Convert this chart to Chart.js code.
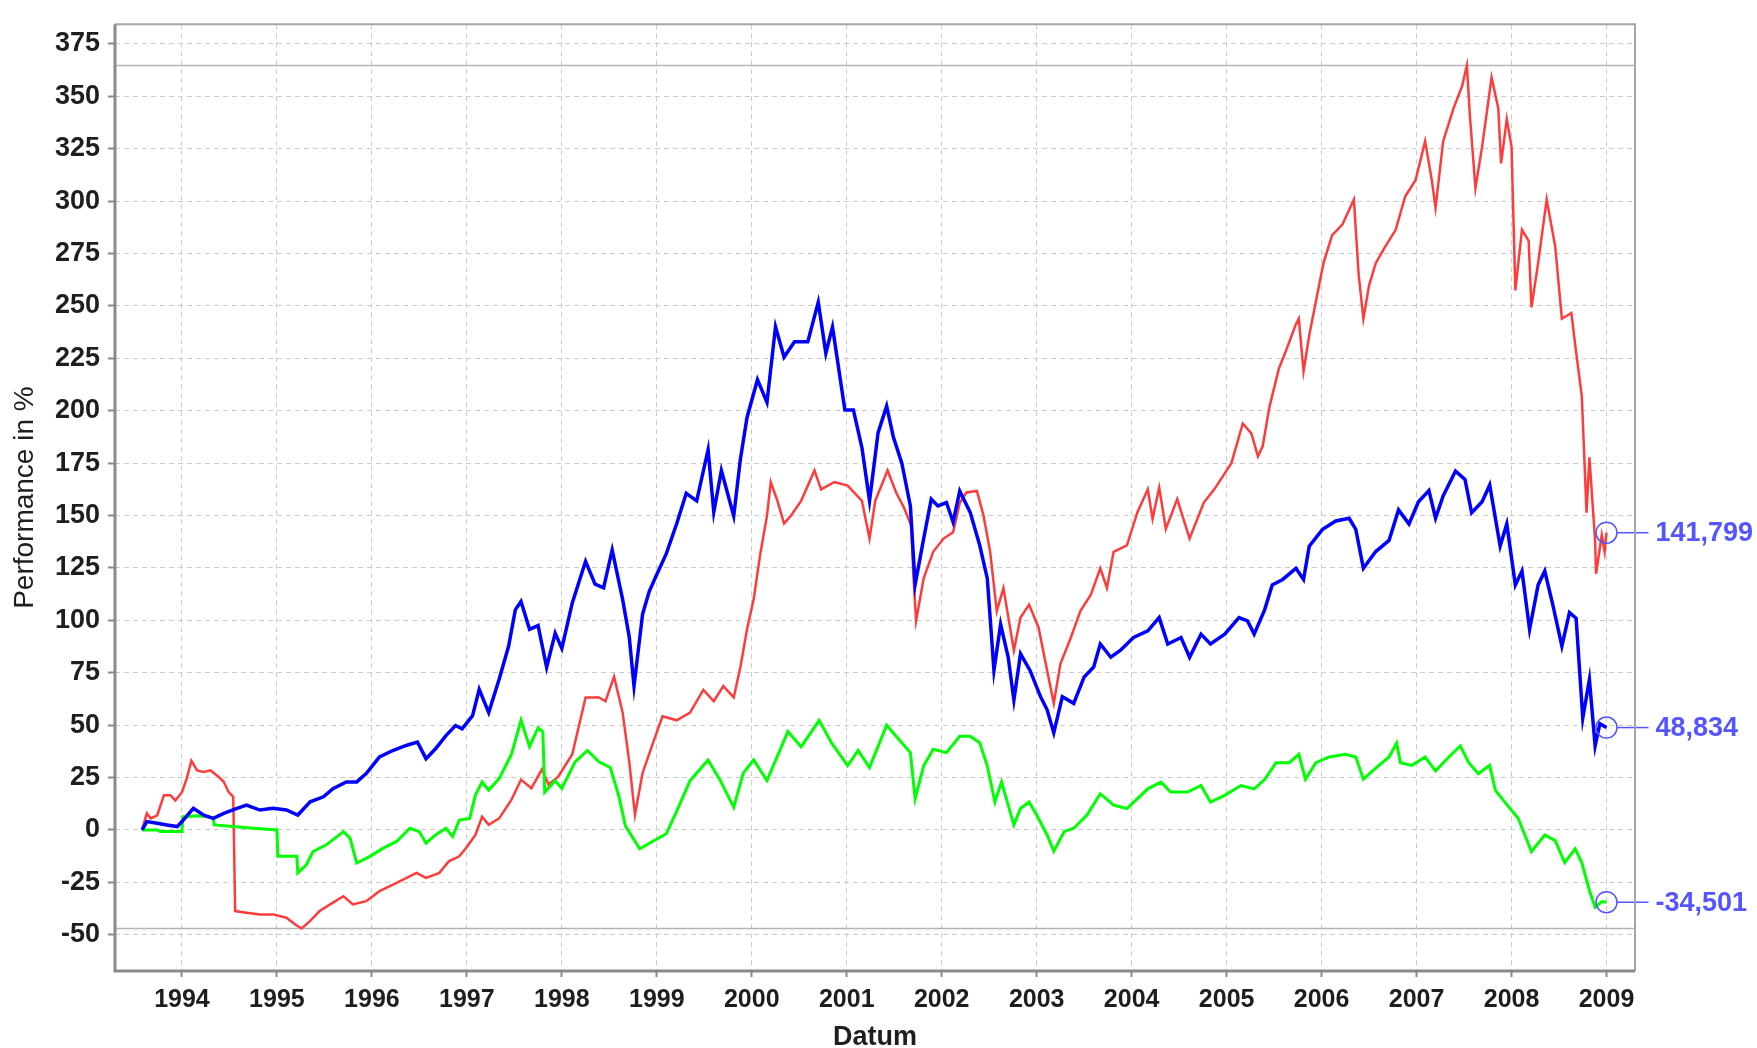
<!DOCTYPE html>
<html>
<head>
<meta charset="utf-8">
<title>Performance in %</title>
<script src="https://cdn.jsdelivr.net/npm/chart.js@4.4.1/dist/chart.umd.min.js"></script>
<style>
  html, body { margin: 0; padding: 0; background: #fff; }
  #wrap { width: 1757px; height: 1048px; }
</style>
</head>
<body>
<div id="wrap"><canvas id="perf" width="1757" height="1048"></canvas></div>
<script>
// axis ticks
const yearTicks = [1994, 1995, 1996, 1997, 1998, 1999, 2000, 2001, 2002, 2003, 2004, 2005, 2006, 2007, 2008, 2009];
const valueTicks = [-50, -25, 0, 25, 50, 75, 100, 125, 150, 175, 200, 225, 250, 275, 300, 325, 350, 375];

// red series
const redYears = [1993.58, 1993.63, 1993.67, 1993.74, 1993.81, 1993.88, 1993.93, 1994.00, 1994.05, 1994.10,
  1994.16, 1994.23, 1994.30, 1994.37, 1994.44, 1994.49, 1994.54, 1994.56, 1994.68, 1994.82,
  1994.96, 1995.10, 1995.19, 1995.26, 1995.35, 1995.45, 1995.56, 1995.70, 1995.80, 1995.94,
  1996.08, 1996.26, 1996.47, 1996.57, 1996.71, 1996.81, 1996.92, 1996.99, 1997.09, 1997.16,
  1997.23, 1997.34, 1997.47, 1997.57, 1997.68, 1997.79, 1997.86, 1997.96, 1998.11, 1998.25,
  1998.39, 1998.46, 1998.55, 1998.64, 1998.71, 1998.77, 1998.85, 1998.96, 1999.06, 1999.21,
  1999.35, 1999.49, 1999.60, 1999.70, 1999.81, 1999.88, 1999.95, 2000.02, 2000.09, 2000.16,
  2000.20, 2000.27, 2000.34, 2000.41, 2000.52, 2000.66, 2000.73, 2000.87, 2001.01, 2001.16,
  2001.24, 2001.30, 2001.43, 2001.52, 2001.60, 2001.68, 2001.70, 2001.73, 2001.81, 2001.91,
  2002.02, 2002.12, 2002.19, 2002.26, 2002.37, 2002.44, 2002.51, 2002.58, 2002.65, 2002.76,
  2002.83, 2002.92, 2003.02, 2003.11, 2003.18, 2003.25, 2003.36, 2003.46, 2003.57, 2003.67,
  2003.74, 2003.81, 2003.95, 2004.06, 2004.17, 2004.22, 2004.29, 2004.36, 2004.48, 2004.61,
  2004.76, 2004.87, 2005.05, 2005.17, 2005.26, 2005.33, 2005.38, 2005.45, 2005.55, 2005.62,
  2005.73, 2005.76, 2005.81, 2005.87, 2005.95, 2006.02, 2006.11, 2006.22, 2006.34, 2006.39,
  2006.44, 2006.50, 2006.57, 2006.67, 2006.78, 2006.88, 2006.99, 2007.09, 2007.16, 2007.20,
  2007.28, 2007.39, 2007.48, 2007.53, 2007.56, 2007.62, 2007.69, 2007.79, 2007.86, 2007.89,
  2007.95, 2008.00, 2008.04, 2008.11, 2008.18, 2008.21, 2008.28, 2008.37, 2008.46, 2008.53,
  2008.63, 2008.68, 2008.74, 2008.79, 2008.82, 2008.88, 2008.89, 2008.95, 2008.98, 2009.00];
const redValues = [0, 7.9, 5.5, 7, 16.6, 16.6, 14, 18, 24.5, 33,
  28.4, 27.6, 28.4, 26, 23, 18.2, 15.8, -38.7, -39.5, -40.3,
  -40.3, -41.9, -45, -47, -43.4, -38.7, -35.5, -31.6, -35.5, -34,
  -29.2, -25.3, -20.5, -22.9, -20.5, -15, -12.6, -8.7, -2.4, 6.3,
  2.4, 5.5, 14.4, 24, 19.9, 28.9, 21.7, 25.3, 36.1, 63.2,
  63.2, 61.4, 73.1, 56, 32.5, 7.2, 27.1, 41.5, 54.2, 52.3,
  56, 66.8, 61.4, 68.6, 63.2, 77.6, 95.7, 110, 131.8, 149.8,
  166, 157, 146.2, 149.8, 157, 171.5, 162.5, 166, 164.3, 157,
  139, 157, 171.5, 161, 154, 145, 123, 99.7, 120, 132.7,
  139, 142, 156, 161, 161.7, 150, 132.7, 104.4, 115.4, 85.6,
  101.3, 107.5, 96.5, 76.1, 60.4, 79.3, 91.8, 104.4, 112.2, 124.8,
  115.4, 132.7, 135.8, 151.5, 162.5, 148.4, 163.3, 143.6, 157.8, 139,
  156.2, 162.5, 175, 193.9, 189.2, 178.2, 183.1, 201.6, 220.1, 228,
  241.3, 243.9, 218.8, 236, 254.5, 270.4, 283.6, 288.9, 300.8, 265.1,
  243.9, 259.8, 270.4, 278.3, 286.3, 302.2, 310.1, 328.6, 310.1, 296.8,
  328.6, 344.4, 355, 364.7, 341.8, 306.2, 326, 359, 344.4, 318,
  339.1, 326, 257.4, 286.3, 281, 249.3, 270.4, 300.8, 278.3, 243.9,
  246.6, 228, 206.9, 151.3, 177.8, 138.1, 122.2, 140.7, 132.8, 141.799];

// blue series
const blueYears = [1993.58, 1993.63, 1993.74, 1993.84, 1993.95, 1994.00, 1994.12, 1994.23, 1994.33, 1994.44,
  1994.58, 1994.68, 1994.82, 1994.96, 1995.10, 1995.22, 1995.35, 1995.49, 1995.59, 1995.73,
  1995.84, 1995.94, 1996.08, 1996.22, 1996.36, 1996.48, 1996.57, 1996.67, 1996.78, 1996.88,
  1996.95, 1997.06, 1997.13, 1997.23, 1997.34, 1997.44, 1997.51, 1997.57, 1997.66, 1997.75,
  1997.84, 1997.93, 1998.00, 1998.11, 1998.25, 1998.35, 1998.44, 1998.53, 1998.64, 1998.71,
  1998.76, 1998.85, 1998.92, 1998.99, 1999.10, 1999.21, 1999.31, 1999.42, 1999.54, 1999.60,
  1999.68, 1999.81, 1999.88, 1999.95, 2000.06, 2000.16, 2000.25, 2000.34, 2000.45, 2000.59,
  2000.70, 2000.78, 2000.85, 2000.98, 2001.07, 2001.16, 2001.24, 2001.33, 2001.42, 2001.49,
  2001.58, 2001.67, 2001.72, 2001.81, 2001.89, 2001.96, 2002.05, 2002.12, 2002.19, 2002.30,
  2002.40, 2002.48, 2002.55, 2002.62, 2002.70, 2002.76, 2002.83, 2002.93, 2003.04, 2003.11,
  2003.18, 2003.27, 2003.39, 2003.50, 2003.60, 2003.67, 2003.78, 2003.88, 2004.02, 2004.17,
  2004.29, 2004.38, 2004.52, 2004.61, 2004.73, 2004.83, 2004.98, 2005.13, 2005.22, 2005.29,
  2005.40, 2005.48, 2005.59, 2005.73, 2005.81, 2005.87, 2006.01, 2006.15, 2006.29, 2006.36,
  2006.44, 2006.57, 2006.71, 2006.81, 2006.92, 2007.02, 2007.13, 2007.20, 2007.28, 2007.41,
  2007.51, 2007.58, 2007.69, 2007.77, 2007.88, 2007.95, 2008.04, 2008.11, 2008.19, 2008.28,
  2008.35, 2008.44, 2008.53, 2008.61, 2008.68, 2008.75, 2008.82, 2008.88, 2008.93, 2009.00];
const blueValues = [0, 4, 3.2, 2.4, 1.6, 4, 10.3, 7, 5.5, 7.9,
  10.3, 11.8, 9.5, 10.3, 9.5, 7.1, 13.4, 15.8, 19.7, 22.9,
  22.9, 26.9, 34.8, 37.9, 40.3, 41.9, 34, 38.7, 45, 49.8,
  48.2, 54.5, 67.1, 56, 71.9, 87.7, 105, 109, 95.7, 97.5,
  77.6, 93.9, 86.6, 108.3, 128.2, 117.3, 115.5, 133.6, 110, 92,
  68.6, 102.9, 113.7, 120.9, 131.8, 146.2, 160.6, 157, 181.4, 151.6,
  171.5, 149.8, 176.9, 196.8, 214.8, 204, 240, 225.6, 232.9, 232.9,
  251.8, 227.4, 240, 200.4, 200.4, 182.3, 157, 189.5, 202.2, 187.6,
  175, 154.6, 117, 139, 157.8, 154.6, 156.2, 146.8, 161.7, 151.5,
  135.8, 120, 76.1, 98.1, 82.4, 62, 84, 76.1, 63.6, 57.3,
  46.3, 63.6, 60.4, 73, 77.7, 88.7, 82.4, 85.6, 91.8, 95,
  101.3, 88.7, 91.8, 82.4, 93.4, 88.7, 93.4, 101.3, 99.7, 93.4,
  105, 116.9, 119.5, 124.8, 119.5, 135.4, 143.4, 147.4, 148.7, 143.4,
  124.8, 132.8, 138.1, 152.7, 146, 156.6, 161.9, 148.7, 159.3, 171.2,
  167.2, 151.3, 156.6, 164.6, 135.4, 146, 116.9, 123.5, 95.6, 116.9,
  123.5, 106.3, 87.7, 103.7, 101, 53.3, 71.8, 40.1, 50.7, 48.834];

// green series
const greenYears = [1993.58, 1993.74, 1993.77, 1994.00, 1994.01, 1994.19, 1994.33, 1994.34, 1994.54, 1994.75,
  1995.00, 1995.01, 1995.21, 1995.22, 1995.31, 1995.38, 1995.52, 1995.70, 1995.77, 1995.84,
  1995.98, 1996.12, 1996.26, 1996.40, 1996.50, 1996.57, 1996.67, 1996.78, 1996.85, 1996.92,
  1997.03, 1997.09, 1997.16, 1997.23, 1997.34, 1997.47, 1997.57, 1997.66, 1997.75, 1997.80,
  1997.82, 1997.93, 1998.00, 1998.14, 1998.27, 1998.39, 1998.51, 1998.60, 1998.67, 1998.82,
  1998.96, 1999.10, 1999.21, 1999.35, 1999.54, 1999.67, 1999.81, 1999.91, 2000.02, 2000.16,
  2000.38, 2000.52, 2000.71, 2000.84, 2001.01, 2001.12, 2001.24, 2001.42, 2001.52, 2001.67,
  2001.72, 2001.81, 2001.91, 2002.05, 2002.19, 2002.30, 2002.40, 2002.48, 2002.56, 2002.63,
  2002.76, 2002.83, 2002.92, 2003.00, 2003.11, 2003.18, 2003.29, 2003.39, 2003.53, 2003.67,
  2003.81, 2003.95, 2004.17, 2004.31, 2004.41, 2004.59, 2004.73, 2004.83, 2004.98, 2005.15,
  2005.29, 2005.40, 2005.52, 2005.66, 2005.76, 2005.83, 2005.94, 2006.08, 2006.25, 2006.36,
  2006.44, 2006.57, 2006.71, 2006.79, 2006.83, 2006.95, 2007.09, 2007.20, 2007.34, 2007.46,
  2007.55, 2007.65, 2007.77, 2007.83, 2007.97, 2008.07, 2008.21, 2008.35, 2008.46, 2008.56,
  2008.67, 2008.74, 2008.82, 2008.88, 2008.95, 2009.00];
const greenValues = [0, 0, -0.8, -0.8, 6.3, 6.8, 5.8, 2.4, 1.6, 0.8,
  0, -12.6, -12.6, -20.5, -16.6, -10.3, -7.1, -0.8, -3.9, -15.8,
  -12.6, -8.7, -5.5, 0.8, -0.8, -6.3, -2.4, 0.8, -3.2, 4.7,
  5.5, 16.6, 22.9, 19, 24.5, 36.1, 52.3, 39.7, 48.7, 46.9,
  18, 23.5, 19.9, 32.5, 37.9, 32.5, 29.8, 16.2, 1.8, -9,
  -5.4, -1.8, 9, 23.5, 33.4, 23.5, 10.8, 27.1, 33.4, 23.5,
  46.9, 39.7, 52.3, 41.5, 30.7, 37.9, 29.8, 50, 44.7, 36.9,
  14.9, 30.6, 38.5, 36.9, 44.7, 44.7, 41.6, 30.6, 13.3, 22.8,
  2.4, 10.2, 13.3, 7.1, -2.4, -10.2, -0.8, 0.8, 7.1, 17.3,
  11.8, 10.2, 19.6, 22.8, 18.1, 18.1, 21.2, 13.3, 16.5, 21.2,
  19.6, 24, 32.1, 32.1, 36.1, 24.2, 32.1, 34.8, 36.1, 34.8,
  24.2, 29.5, 34.8, 41.4, 32.1, 30.8, 34.8, 28.2, 34.8, 40.1,
  32.1, 26.8, 30.8, 18.9, 11, 5.6, -10.3, -2.4, -5.1, -15.6,
  -9, -15.6, -28.9, -36.9, -34.2, -34.501];

const fontFamily = "'Liberation Sans', Arial, Helvetica, sans-serif";
const textColor = '#1e1e1e';
const markColor = '#5555ff';

function toPoints(xs, ys) {
  return xs.map((x, i) => ({ x: x, y: ys[i] }));
}

// gray lines at the overall max and min, plus the plot frame
const rangeLines = {
  id: 'rangeLines',
  beforeDatasetsDraw(chart) {
    const { ctx, chartArea: a } = chart;
    const yScale = chart.scales.y;
    const all = chart.data.datasets.flatMap(d => d.data.map(p => p.y));
    ctx.save();
    ctx.strokeStyle = '#b4b4b4';
    ctx.lineWidth = 1.5;
    [Math.max(...all), Math.min(...all)].forEach(v => {
      const py = yScale.getPixelForValue(v);
      ctx.beginPath();
      ctx.moveTo(a.left, py);
      ctx.lineTo(a.right, py);
      ctx.stroke();
    });
    ctx.restore();
  },
  afterDraw(chart) {
    const { ctx, chartArea: a } = chart;
    ctx.save();
    ctx.strokeStyle = '#a6a6a6';
    ctx.lineWidth = 2;
    ctx.beginPath();
    ctx.moveTo(a.left, a.top);
    ctx.lineTo(a.right, a.top);
    ctx.lineTo(a.right, a.bottom);
    ctx.stroke();
    ctx.strokeStyle = '#8a8a8a';
    ctx.lineWidth = 3;
    ctx.beginPath();
    ctx.moveTo(a.left, a.top);
    ctx.lineTo(a.left, a.bottom);
    ctx.lineTo(a.right, a.bottom);
    ctx.stroke();
    ctx.restore();
  }
};

// circle + value label at the last point of every series
const endLabels = {
  id: 'endLabels',
  afterDatasetsDraw(chart) {
    const ctx = chart.ctx;
    ctx.save();
    ctx.strokeStyle = markColor;
    ctx.fillStyle = markColor;
    ctx.lineWidth = 1.5;
    ctx.font = 'bold 27px ' + fontFamily;
    ctx.textAlign = 'left';
    ctx.textBaseline = 'middle';
    chart.data.datasets.forEach((ds, i) => {
      const pts = chart.getDatasetMeta(i).data;
      const p = pts[pts.length - 1];
      const last = ds.data[ds.data.length - 1].y;
      ctx.beginPath();
      ctx.arc(p.x, p.y, 10.5, 0, Math.PI * 2);
      ctx.stroke();
      ctx.beginPath();
      ctx.moveTo(p.x + 10.5, p.y);
      ctx.lineTo(p.x + 42, p.y);
      ctx.stroke();
      ctx.fillText(last.toFixed(3).replace('.', ','), p.x + 49, p.y + 1);
    });
    ctx.restore();
  }
};

new Chart(document.getElementById('perf'), {
  type: 'line',
  data: {
    datasets: [
      { label: 'blue', data: toPoints(blueYears, blueValues), borderColor: '#0000ff', borderWidth: 3.5 },
      { label: 'green', data: toPoints(greenYears, greenValues), borderColor: '#00ff00', borderWidth: 3 },
      { label: 'red', data: toPoints(redYears, redValues), borderColor: '#ff3c3c', borderWidth: 2.5 }
    ]
  },
  options: {
    responsive: false,
    animation: false,
    devicePixelRatio: 1,
    layout: { padding: { top: 11, right: 122, left: 0, bottom: 0 } },
    elements: { point: { radius: 0 }, line: { tension: 0 } },
    plugins: { legend: { display: false }, tooltip: { enabled: false } },
    scales: {
      x: {
        type: 'linear',
        min: 1993.295,
        max: 2009.3,
        afterBuildTicks: axis => { axis.ticks = yearTicks.map(v => ({ value: v })); },
        afterFit: axis => { axis.height = 77; },
        grid: { color: '#cccccc', lineWidth: 1, tickLength: 6, tickColor: '#8a8a8a', tickWidth: 2, tickBorderDash: [] },
        border: { display: false, dash: [5, 4] },
        ticks: {
          autoSkip: false, maxRotation: 0, padding: 8, color: textColor,
          font: { family: fontFamily, size: 25, weight: 'bold' },
          callback: v => String(v)
        },
        title: {
          display: true, text: 'Datum', color: textColor, padding: 0,
          font: { family: fontFamily, size: 27, weight: 'bold', lineHeight: 0.8 }
        }
      },
      y: {
        min: -67.3,
        max: 384.4,
        afterBuildTicks: axis => { axis.ticks = valueTicks.map(v => ({ value: v })); },
        afterFit: axis => { axis.width = 115; },
        grid: { color: '#cccccc', lineWidth: 1, tickLength: 7, tickColor: '#8a8a8a', tickWidth: 2, tickBorderDash: [] },
        border: { display: false, dash: [5, 4] },
        ticks: {
          padding: 8, color: textColor,
          font: { family: fontFamily, size: 27, weight: 'bold' },
          callback: v => String(v)
        },
        title: {
          display: true, text: 'Performance in %', color: textColor, padding: { top: 14, bottom: 0 },
          font: { family: fontFamily, size: 28, lineHeight: 0.8 }
        }
      }
    }
  },
  plugins: [rangeLines, endLabels]
});
</script>
</body>
</html>
